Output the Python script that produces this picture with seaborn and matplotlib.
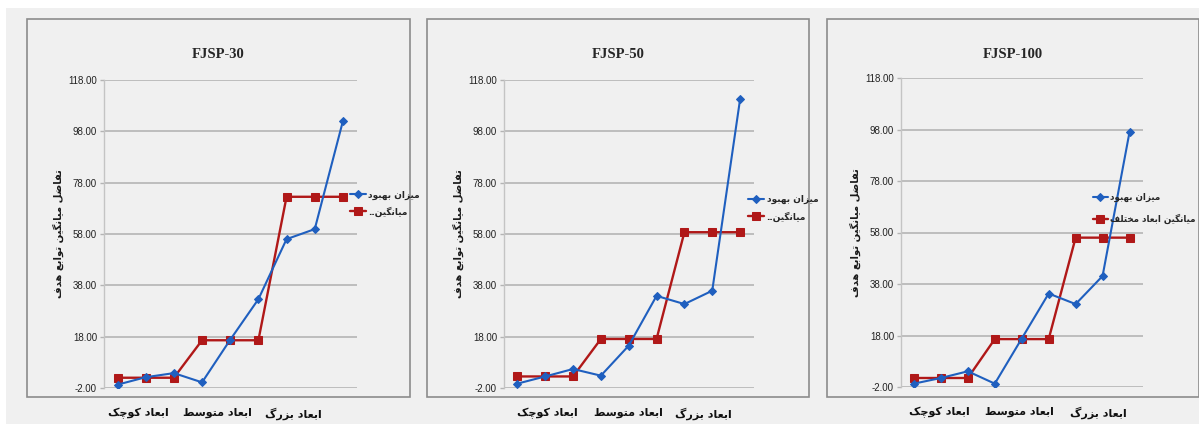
import numpy as np
import pandas as pd
import matplotlib
matplotlib.use("Agg")
import matplotlib.pyplot as plt
from matplotlib.patches import Rectangle
import seaborn as sns

# ---------------- data ----------------
panel_titles = ["FJSP-30", "FJSP-50", "FJSP-100"]
group_labels = ["ابعاد کوچک", "ابعاد متوسط", "ابعاد بزرگ"]
y_label = "تفاضل میانگین توابع هدف"
series_improve = "میزان بهبود"
series_mean_short = "میانگین.."
series_mean_full = "میانگین ابعاد مختلف"

improve_30 = [-0.7, 2.2, 3.8, 0.2, 16.8, 32.6, 56.0, 59.9, 102.0]
mean_30 = [2.0, 2.0, 2.0, 16.6, 16.6, 16.6, 72.5, 72.5, 72.5]
improve_50 = [-0.3, 2.5, 5.4, 2.8, 14.5, 33.9, 30.7, 35.9, 110.5]
mean_50 = [2.5, 2.5, 2.5, 17.1, 17.1, 17.1, 58.7, 58.7, 58.7]
improve_100 = [-0.7, 1.5, 4.1, -0.7, 16.8, 34.3, 30.2, 41.1, 97.0]
mean_100 = [1.5, 1.5, 1.5, 16.6, 16.6, 16.6, 56.0, 56.0, 56.0]

y_ticks = [-2, 18, 38, 58, 78, 98, 118]

# ---------------- simple Persian shaping ----------------
FORMS = {
    'ا': ('\uFE8D', '\uFE8E'),
    'د': ('\uFEA9', '\uFEAA'),
    'ز': ('\uFEAF', '\uFEB0'),
    'و': ('\uFEED', '\uFEEE'),
    'ب': ('\uFE8F', '\uFE90', '\uFE91', '\uFE92'),
    'ت': ('\uFE95', '\uFE96', '\uFE97', '\uFE98'),
    'خ': ('\uFEA5', '\uFEA6', '\uFEA7', '\uFEA8'),
    'س': ('\uFEB1', '\uFEB2', '\uFEB3', '\uFEB4'),
    'ض': ('\uFEBD', '\uFEBE', '\uFEBF', '\uFEC0'),
    'ط': ('\uFEC1', '\uFEC2', '\uFEC3', '\uFEC4'),
    'ع': ('\uFEC9', '\uFECA', '\uFECB', '\uFECC'),
    'ف': ('\uFED1', '\uFED2', '\uFED3', '\uFED4'),
    'ل': ('\uFEDD', '\uFEDE', '\uFEDF', '\uFEE0'),
    'م': ('\uFEE1', '\uFEE2', '\uFEE3', '\uFEE4'),
    'ن': ('\uFEE5', '\uFEE6', '\uFEE7', '\uFEE8'),
    'ه': ('\uFEE9', '\uFEEA', '\uFEEB', '\uFEEC'),
    'چ': ('\uFB7A', '\uFB7B', '\uFB7C', '\uFB7D'),
    'ک': ('\uFB8E', '\uFB8F', '\uFB90', '\uFB91'),
    'گ': ('\uFB92', '\uFB93', '\uFB94', '\uFB95'),
    'ی': ('\uFBFC', '\uFBFD', '\uFBFE', '\uFBFF'),
}


def shape(text):
    out = []
    n = len(text)
    for i, c in enumerate(text):
        if c not in FORMS:
            out.append(c)
            continue
        prev = text[i - 1] if i > 0 else None
        nxt = text[i + 1] if i < n - 1 else None
        jp = prev in FORMS and len(FORMS[prev]) == 4
        jn = len(FORMS[c]) == 4 and nxt in FORMS
        f = FORMS[c]
        if jp and jn:
            out.append(f[3])
        elif jp:
            out.append(f[1])
        elif jn:
            out.append(f[2])
        else:
            out.append(f[0])
    return ''.join(reversed(out))


# ---------------- style ----------------
sns.set_theme(style="white")
plt.rcParams['font.family'] = ['DejaVu Sans']

BG = "#f0f0f0"
BLUE = "#1f5fbf"
RED = "#b01818"
GRID = "#b4b4b4"

fig = plt.figure(figsize=(11.99, 4.24), dpi=100, facecolor="white")
W, H = 1199.0, 424.0

# grey backdrop
fig.patches.append(Rectangle((6 / W, 0), 1 - 6 / W, (H - 8) / H, transform=fig.transFigure,
                             facecolor=BG, edgecolor="none", zorder=-10))

# chart-area borders (pixel coords: x0, x1)
boxes = [(27, 410), (427, 809), (827, 1199)]
for x0, x1 in boxes:
    fig.patches.append(Rectangle((x0 / W, (H - 397) / H), (x1 - x0) / W, (397 - 19) / H,
                                 transform=fig.transFigure, facecolor="none",
                                 edgecolor="#8c8c8c", lw=1.2, zorder=-5))

# axes rectangles in pixels: left, right, top, bottom
axes_px = [(104, 357, 80, 388), (504, 754, 80, 388), (901, 1143, 78, 387)]
tick_pos = [[0.73, 3.54, 6.25], [1.07, 3.99, 6.68], [0.96, 3.93, 6.83]]
legend_anchor = [(0.972, 0.599), (0.976, 0.583), (0.884, 0.578)]
legend_spacing = [0.75, 0.75, 1.3]
legend_size = [6.5, 6.5, 6.3]
title_x = [218.5, 618, 1013]

improves = [improve_30, improve_50, improve_100]
means = [mean_30, mean_50, mean_100]
mean_names = [series_mean_short, series_mean_short, series_mean_full]

legends = []
for k in range(3):
    l, r, t, b = axes_px[k]
    ax = fig.add_axes([l / W, (H - b) / H, (r - l) / W, (b - t) / H])
    ax.set_facecolor("none")
    pos = np.arange(len(improves[k]))
    df = pd.DataFrame({"pos": pos, "improve": improves[k], "mean": means[k]})

    sns.lineplot(data=df, x="pos", y="improve", ax=ax, color=BLUE, marker="D",
                 markersize=4.0, markeredgecolor=BLUE, lw=1.5, legend=False, zorder=3)
    sns.lineplot(data=df, x="pos", y="mean", ax=ax, color=RED, marker="s",
                 markersize=6.3, markeredgecolor=RED, lw=1.7, legend=False, zorder=2)

    ax.set_xlim(-0.48, 8.5)
    ax.set_ylim(-2, 118)
    ax.set_yticks(y_ticks)
    ax.set_yticklabels([f"{v:.2f}" for v in y_ticks], fontsize=7.0,
                       family="Liberation Sans")
    ax.yaxis.grid(True, color=GRID, lw=1.2)
    ax.set_axisbelow(True)
    ax.tick_params(axis="y", length=3, width=1.0, color=GRID, pad=2, left=True,
                   labelcolor="#222222")
    ax.set_xticks(tick_pos[k])
    ax.set_xticklabels([shape(s) for s in group_labels], fontsize=8, fontweight="bold")
    ax.tick_params(axis="x", length=0, pad=14, labelcolor="#111111")

    for s in ["top", "right", "bottom"]:
        ax.spines[s].set_visible(False)
    ax.spines["left"].set_color("#c4c4c4")
    ax.spines["left"].set_linewidth(1.0)

    ax.set_xlabel("")
    ax.set_ylabel(shape(y_label), fontsize=7.2, fontweight="bold", labelpad=3,
                  color="#1a1a1a")

    lines = ax.get_lines()
    leg = ax.legend(handles=[lines[0], lines[1]],
                    labels=[shape(series_improve), shape(mean_names[k])],
                    loc="center left", bbox_to_anchor=legend_anchor[k], frameon=False,
                    borderpad=0, borderaxespad=0, handlelength=1.8, handletextpad=0.25,
                    labelspacing=legend_spacing[k],
                    prop={"size": legend_size[k], "weight": "bold"})
    leg.set_clip_on(False)
    legends.append((ax, leg, k))

    fig.text(title_x[k] / W, (H - 55) / H, panel_titles[k], ha="center", va="center",
             fontsize=10.5, fontweight="bold", family=["Liberation Serif", "DejaVu Serif"])

# keep every legend inside the figure: shift left if it overflows the right edge
fig.canvas.draw()
renderer = fig.canvas.get_renderer()
for ax, leg, k in legends:
    bb = leg.get_window_extent(renderer)
    overflow = bb.x1 - (W - 3)
    if overflow > 0:
        ax_w = ax.get_window_extent(renderer).width
        ax0, ay0 = legend_anchor[k]
        leg.set_bbox_to_anchor((ax0 - overflow / ax_w, ay0), transform=ax.transAxes)

fig.savefig("out.png", dpi=100, facecolor=fig.get_facecolor())
